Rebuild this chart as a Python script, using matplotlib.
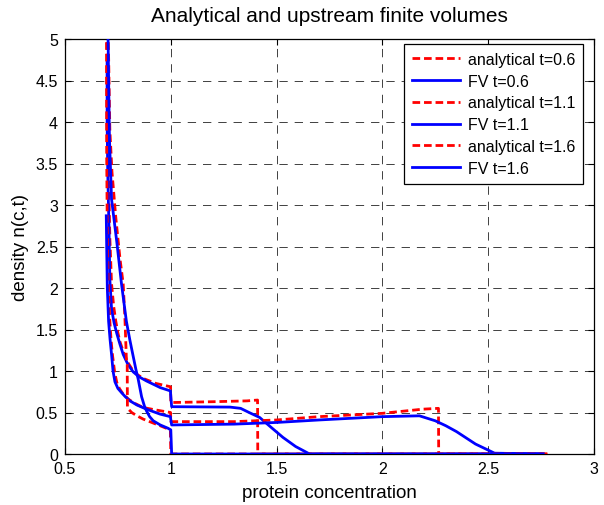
import matplotlib
matplotlib.use("Agg")
import matplotlib.pyplot as plt

plt.rcParams['font.family'] = ['Liberation Sans', 'DejaVu Sans']
plt.rcParams['lines.scale_dashes'] = False

title = "Analytical and upstream finite volumes"
xlabel = "protein concentration"
ylabel = "density n(c,t)"
xticks = [0.5, 1, 1.5, 2, 2.5, 3]
xticklabels = ["0.5", "1", "1.5", "2", "2.5", "3"]
yticks = [0, 0.5, 1, 1.5, 2, 2.5, 3, 3.5, 4, 4.5, 5]
yticklabels = ["0", "0.5", "1", "1.5", "2", "2.5", "3", "3.5", "4", "4.5", "5"]
labels = ["analytical t=0.6", "FV t=0.6", "analytical t=1.1", "FV t=1.1",
          "analytical t=1.6", "FV t=1.6"]

# analytical t=0.6
ana06_c = [0.700, 0.705, 0.712, 0.720, 0.730, 0.740, 0.750, 0.760, 0.780, 0.800, 0.815,
           0.840, 0.870, 0.930, 0.999,
           1.000, 1.200, 1.360, 1.410, 1.411, 2.780]
ana06_n = [5.10, 3.50, 2.60, 2.05, 1.78, 1.60, 1.46, 1.35, 1.20, 1.09, 1.03,
           0.96, 0.91, 0.85, 0.81,
           0.62, 0.63, 0.64, 0.65, 0.00, 0.00]
# FV t=0.6
fv06_c = [0.699, 0.699, 0.702, 0.708, 0.712, 0.720, 0.732, 0.745, 0.760, 0.775, 0.797,
          0.822, 0.850, 0.885, 0.950, 0.998,
          1.004, 1.280, 1.330, 1.370, 1.420, 1.470, 1.530, 1.590, 1.656, 2.760]
fv06_n = [4.72, 4.00, 3.40, 2.70, 2.10, 1.75, 1.58, 1.45, 1.32, 1.20, 1.08,
          0.99, 0.93, 0.88, 0.80, 0.76,
          0.57, 0.565, 0.55, 0.50, 0.44, 0.33, 0.20, 0.09, 0.00, 0.00]
# analytical t=1.1
ana11_c = [0.696, 0.697, 0.700, 0.705, 0.712, 0.718, 0.725, 0.735, 0.745, 0.757, 0.770,
           0.785, 0.800, 0.830, 0.870, 0.930, 0.999,
           1.000, 1.300, 1.500, 1.700, 2.000, 2.190, 2.265, 2.266, 2.780]
ana11_n = [5.10, 3.60, 2.60, 2.00, 1.60, 1.36, 1.18, 0.98, 0.86, 0.79, 0.74,
           0.70, 0.66, 0.61, 0.56, 0.53, 0.50,
           0.39, 0.39, 0.41, 0.45, 0.49, 0.54, 0.55, 0.00, 0.00]
# FV t=1.1
fv11_c = [0.695, 0.697, 0.700, 0.706, 0.713, 0.720, 0.727, 0.736, 0.750, 0.767, 0.785,
          0.807, 0.840, 0.885, 0.950, 0.998,
          1.004, 1.300, 1.500, 1.700, 2.000, 2.175, 2.250, 2.300, 2.350, 2.440, 2.530, 2.760]
fv11_n = [2.87, 2.50, 2.00, 1.60, 1.38, 1.20, 1.00, 0.87, 0.79, 0.74, 0.69,
          0.64, 0.59, 0.54, 0.48, 0.45,
          0.35, 0.36, 0.38, 0.41, 0.45, 0.46, 0.40, 0.34, 0.27, 0.12, 0.01, 0.00]
# analytical t=1.6
ana16_c = [0.704, 0.712, 0.722, 0.740, 0.760, 0.775, 0.783, 0.790, 0.794, 0.795,
           0.800, 0.815, 0.840, 0.870, 0.900, 0.950, 0.998, 1.000, 2.780]
ana16_n = [5.10, 3.90, 3.40, 2.85, 2.35, 2.05, 1.65, 1.15, 1.08, 0.57,
           0.54, 0.50, 0.46, 0.42, 0.39, 0.34, 0.29, 0.00, 0.00]
# FV t=1.6
fv16_c = [0.703, 0.710, 0.720, 0.745, 0.767, 0.790, 0.806, 0.822, 0.835, 0.846, 0.862,
          0.875, 0.885, 0.900, 0.917, 0.950, 0.987, 1.000, 1.004, 2.760]
fv16_n = [5.10, 3.80, 3.07, 2.55, 2.05, 1.60, 1.38, 1.18, 1.02, 0.90, 0.69,
          0.58, 0.52, 0.45, 0.40, 0.35, 0.31, 0.29, 0.00, 0.00]

series = [(ana06_c, ana06_n), (fv06_c, fv06_n), (ana11_c, ana11_n), (fv11_c, fv11_n),
          (ana16_c, ana16_n), (fv16_c, fv16_n)]

fig = plt.figure(figsize=(6.04, 5.06), dpi=100)
ax = fig.add_axes([65/604, 51/506, 529/604, 415/506])

for i, ((c, n), lab) in enumerate(zip(series, labels)):
    if i % 2 == 0:
        ax.plot(c, n, color='#ff0000', lw=2.0, dashes=(5.5, 2.8), label=lab, zorder=3)
    else:
        ax.plot(c, n, color='#0000ff', lw=2.0, label=lab, zorder=3)

ax.set_xlim(0.5, 3)
ax.set_ylim(0, 5)
ax.set_xticks(xticks)
ax.set_xticklabels(xticklabels)
ax.set_yticks(yticks)
ax.set_yticklabels(yticklabels)
ax.tick_params(direction='in', top=True, right=True, length=4, width=0.8,
               labelsize=11.5, pad=5)
ax.grid(True, color='0.25', lw=0.7, dashes=(6, 5))
ax.set_axisbelow(True)
for s in ax.spines.values():
    s.set_linewidth(0.9)

ax.set_title(title, fontsize=15, pad=13)
ax.set_xlabel(xlabel, fontsize=13.5, labelpad=6)
ax.set_ylabel(ylabel, fontsize=13.5, labelpad=5)

leg = ax.legend(loc='upper right', bbox_to_anchor=(583/604, 461/506),
                bbox_transform=fig.transFigure, fontsize=11.5, handlelength=3.0,
                handletextpad=0.5, borderpad=0.5, labelspacing=0.42, fancybox=False,
                framealpha=1, edgecolor='black', borderaxespad=0)
leg.get_frame().set_linewidth(0.9)

fig.savefig("out.png", dpi=100)
